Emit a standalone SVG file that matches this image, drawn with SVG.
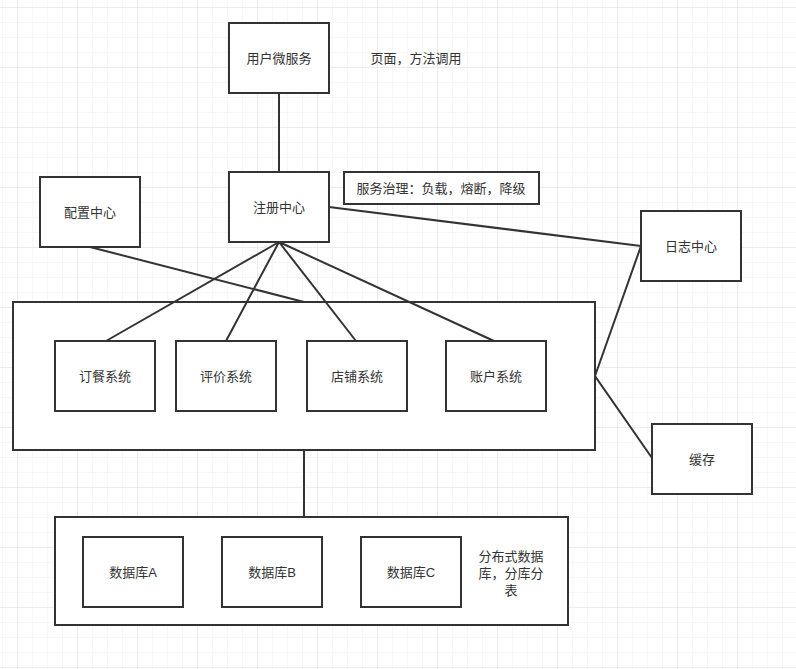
<svg xmlns="http://www.w3.org/2000/svg" width="796" height="669" viewBox="0 0 796 669">
<defs>
<pattern id="minor" x="2" y="7" width="15" height="15" patternUnits="userSpaceOnUse"><path d="M0 0H15M0 0V15" fill="none" stroke="#f0f0f0" stroke-width="1"/></pattern>
<pattern id="major" x="17" y="7" width="60" height="60" patternUnits="userSpaceOnUse"><path d="M0 0H60M0 0V60" fill="none" stroke="#e2e2e2" stroke-width="1"/></pattern>
</defs>
<style>
.b{fill:#fff;stroke:#333;stroke-width:2}
.t{font-family:"Liberation Sans","Noto Sans CJK SC",sans-serif;font-size:13px;fill:#333;text-anchor:middle;dominant-baseline:central}
.c{stroke:#333;stroke-width:2;fill:none}
</style>
<rect width="796" height="669" fill="#fff"/>
<rect width="796" height="669" fill="url(#minor)"/>
<rect width="796" height="669" fill="url(#major)"/>
<g id="containers">
<rect class="b" x="13" y="302" width="582" height="148"/>
<rect class="b" x="55" y="517" width="513" height="108"/>
</g>
<g id="connectors">
<path class="c" d="M279 93V172M279 242L106 341M279 242L226 341M279 242L356 341M279 242L494 341M90 247L304 302M329 207L641 246M641 246L595 376L652 458M304 450V517"/>
</g>
<g id="user"><rect class="b" x="229" y="23" width="100" height="70"/><text class="t" x="279" y="58">用户微服务</text></g>
<g id="note1"><text class="t" x="416" y="58">页面，方法调用</text></g>
<g id="registry"><rect class="b" x="229" y="172" width="100" height="70"/><text class="t" x="279" y="207">注册中心</text></g>
<g id="governance"><rect class="b" x="344" y="172" width="195" height="32"/><text class="t" x="441" y="188">服务治理：负载，熔断，降级</text></g>
<g id="config"><rect class="b" x="40" y="177" width="100" height="70"/><text class="t" x="90" y="212">配置中心</text></g>
<g id="log"><rect class="b" x="641" y="211" width="100" height="70"/><text class="t" x="691" y="246">日志中心</text></g>
<g id="cache"><rect class="b" x="652" y="424" width="100" height="70"/><text class="t" x="702" y="459">缓存</text></g>
<g id="order"><rect class="b" x="55" y="341" width="100" height="70"/><text class="t" x="105" y="376">订餐系统</text></g>
<g id="review"><rect class="b" x="176" y="341" width="100" height="70"/><text class="t" x="226" y="376">评价系统</text></g>
<g id="shop"><rect class="b" x="307" y="341" width="100" height="70"/><text class="t" x="357" y="376">店铺系统</text></g>
<g id="account"><rect class="b" x="446" y="341" width="100" height="70"/><text class="t" x="496" y="376">账户系统</text></g>
<g id="dbA"><rect class="b" x="83" y="537" width="100" height="70"/><text class="t" x="133" y="572">数据库A</text></g>
<g id="dbB"><rect class="b" x="222" y="537" width="100" height="70"/><text class="t" x="272" y="572">数据库B</text></g>
<g id="dbC"><rect class="b" x="361" y="537" width="100" height="70"/><text class="t" x="411" y="572">数据库C</text></g>
<g id="note2"><text class="t" x="511" y="556">分布式数据</text><text class="t" x="511" y="573">库，分库分</text><text class="t" x="511" y="590">表</text></g>
</svg>
